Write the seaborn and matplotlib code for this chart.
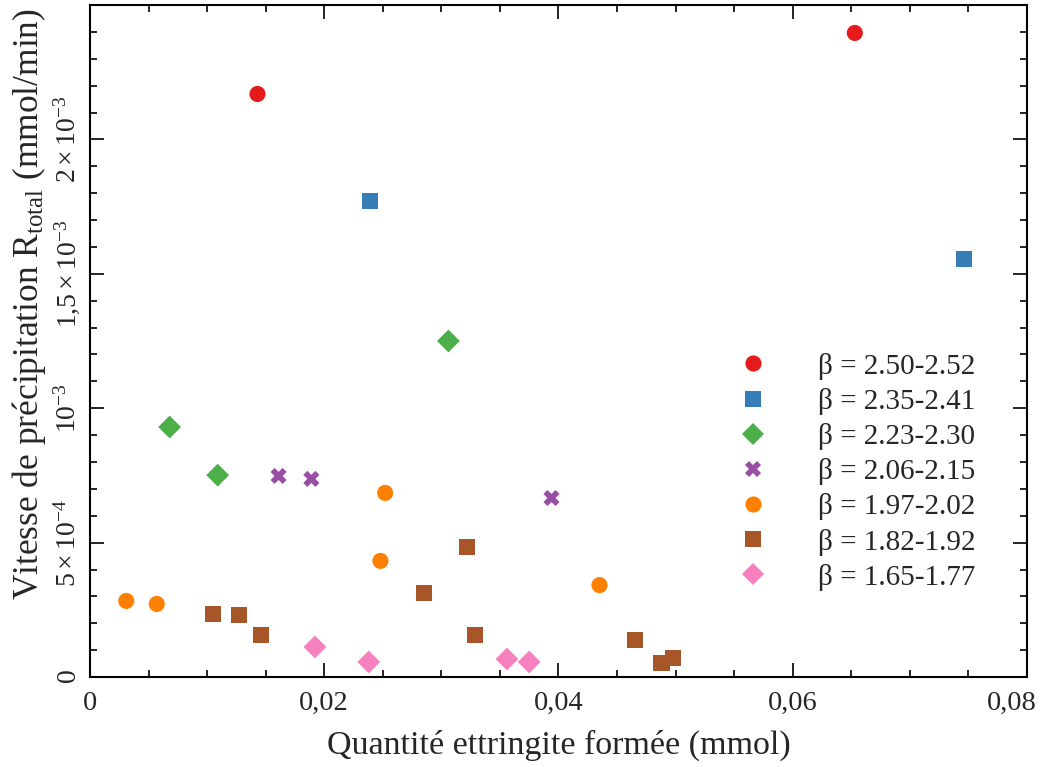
import pandas as pd
import seaborn as sns
import matplotlib.pyplot as plt
import matplotlib.transforms as mtransforms
from matplotlib.ticker import MultipleLocator, FixedLocator, FixedFormatter, FuncFormatter

# Plages de beta (légende)
groupes = ["β = 2.50-2.52", "β = 2.35-2.41", "β = 2.23-2.30", "β = 2.06-2.15",
           "β = 1.97-2.02", "β = 1.82-1.92", "β = 1.65-1.77"]
couleurs = ["#e41a1c", "#377eb8", "#4daf4a", "#984ea3", "#ff7f00", "#a65628", "#f781bf"]
marqueurs = ["o", "s", "D", "X", "o", "s", "D"]

# Quantité ettringite formée (mmol) / vitesse de précipitation (mmol/min)
x_250 = [0.0143, 0.0653]
y_250 = [0.002169, 0.002396]
x_235 = [0.0239, 0.0746]
y_235 = [0.001771, 0.001555]
x_223 = [0.0068, 0.0109, 0.0306]
y_223 = [0.000930, 0.000751, 0.001250]
x_206 = [0.0161, 0.0189, 0.0394]
y_206 = [0.000748, 0.000737, 0.000666]
x_197 = [0.0031, 0.0057, 0.0252, 0.0248, 0.0435]
y_197 = [0.000283, 0.000272, 0.000685, 0.000432, 0.000342]
x_182 = [0.0105, 0.0127, 0.0146, 0.0285, 0.0322, 0.0329, 0.0465, 0.0488, 0.0498]
y_182 = [0.000234, 0.000231, 0.000156, 0.000313, 0.000484, 0.000156, 0.000138, 0.000052, 0.000071]
x_165 = [0.0192, 0.0238, 0.0356, 0.0375]
y_165 = [0.000112, 0.000056, 0.000067, 0.000056]

# Graduations de l'axe y
y_ticks = [0, 0.0005, 0.001, 0.0015, 0.002]
y_ticklabels = ["$0$", r"$5\times10^{-4}$", r"$10^{-3}$", r"$1{,}5\times10^{-3}$", r"$2\times10^{-3}$"]

xs = [x_250, x_235, x_223, x_206, x_197, x_182, x_165]
ys = [y_250, y_235, y_223, y_206, y_197, y_182, y_165]
frames = []
for g, xv, yv in zip(groupes, xs, ys):
    frames.append(pd.DataFrame({"x": xv, "y": yv, "groupe": g}))
df = pd.concat(frames, ignore_index=True)

sns.set_style("ticks")
plt.rcParams['font.family'] = ['Liberation Serif', 'DejaVu Serif']
plt.rcParams['mathtext.fontset'] = 'custom'
plt.rcParams['mathtext.rm'] = 'Liberation Serif'
plt.rcParams['mathtext.it'] = 'Liberation Serif:italic'
plt.rcParams['mathtext.bf'] = 'Liberation Serif:bold'

fig = plt.figure(figsize=(10.44, 7.67), dpi=100)
ax = fig.add_axes([0.0862, 0.1173, 0.8975, 0.8762])

sns.scatterplot(data=df, x="x", y="y", hue="groupe", style="groupe",
                hue_order=groupes, style_order=groupes,
                palette=dict(zip(groupes, couleurs)),
                markers=dict(zip(groupes, marqueurs)),
                s=135, linewidth=0, ax=ax)

ax.set_xlim(0, 0.08)
ax.set_ylim(0, 0.0025)

ax.xaxis.set_major_locator(MultipleLocator(0.02))
ax.xaxis.set_minor_locator(MultipleLocator(0.005))
ax.xaxis.set_major_formatter(FuncFormatter(lambda v, p: "0" if abs(v) < 1e-12 else f"{v:.2f}".replace(".", ",")))
ax.yaxis.set_major_locator(FixedLocator(y_ticks))
ax.yaxis.set_major_formatter(FixedFormatter(y_ticklabels))
ax.yaxis.set_minor_locator(MultipleLocator(0.0001))

ax.tick_params(which="both", direction="in", top=True, right=True, width=1.2, color="black")
ax.tick_params(which="major", length=10)
ax.tick_params(which="minor", length=5)
ax.tick_params(axis="x", which="major", pad=10, labelsize=20.5)
ax.tick_params(axis="y", which="major", pad=6, labelsize=20)
for lab in ax.get_yticklabels():
    lab.set_rotation(90)
    lab.set_va("center")

# le libellé 0,08 est décalé vers la gauche pour rester dans la figure
fig.canvas.draw()
decalage = mtransforms.ScaledTranslation(-15 / 100, 0, fig.dpi_scale_trans)
for tick in ax.xaxis.get_major_ticks():
    if tick.label1.get_text() == "0,08":
        tick.label1.set_transform(tick.label1.get_transform() + decalage)

for sp in ax.spines.values():
    sp.set_linewidth(1.5)
    sp.set_color("black")

ax.set_xlabel("Quantité ettringite formée (mmol)", fontsize=24.5)
ax.set_ylabel(r"Vitesse de précipitation R$_{\mathrm{total}}$ (mmol/min)", fontsize=25.5)
ax.xaxis.set_label_coords(0.5, -0.079)
ax.yaxis.set_label_coords(-0.0448, 0.555)

# Légende sans cadre à droite
leg = ax.get_legend()
handles = leg.legend_handles
noms = [t.get_text() for t in leg.get_texts()]
leg.remove()
ax.legend(handles, noms, loc="upper left", bbox_to_anchor=(0.692, 0.4826),
          frameon=False, fontsize=21, handlelength=1.0, handletextpad=1.72,
          labelspacing=0.28, borderpad=0, borderaxespad=0)

fig.savefig("out.png", dpi=100)
